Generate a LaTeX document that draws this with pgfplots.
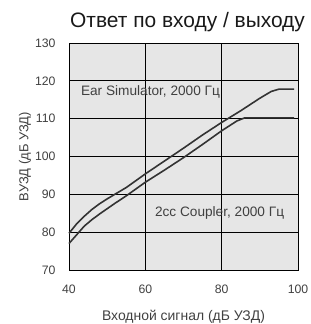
\documentclass[border=0pt]{standalone}
\usepackage{pgfplots}
\pgfplotsset{compat=1.18}
\usepackage{fontspec}
\setmainfont{Liberation Sans}
\definecolor{bg}{HTML}{E6E6E6}
\definecolor{crv}{HTML}{333333}
\definecolor{txt}{HTML}{404040}
\begin{document}
\begin{tikzpicture}
\begin{axis}[
  scale only axis,
  width=229bp, height=227bp,
  xmin=40, xmax=100, ymin=70, ymax=130,
  xtick={40,60,80,100}, ytick={70,80,90,100,110,120,130},
  grid=major,
  major grid style={black, line width=0.9bp},
  axis line style={black, line width=0.9bp},
  major tick length=0pt,
  axis background/.style={fill=bg},
  /pgf/number format/assume math mode=true,
  ticklabel style={font=\fontsize{12.3}{14}\selectfont, text=txt},
  xticklabel style={yshift=-11bp},
  yticklabel style={xshift=-10bp},
  xlabel={Входной сигнал (дБ УЗД)},
  ylabel={ВУЗД (дБ УЗД)},
  every axis x label/.style={at={([yshift=-47bp]rel axis cs:0.5,0)}, anchor=center, font=\fontsize{14}{16}\selectfont, text=txt},
  every axis y label/.style={at={([xshift=-44bp]rel axis cs:0,0.5)}, rotate=90, anchor=center, font=\fontsize{13}{15}\selectfont, text=txt},
  clip=false,
]
\addplot[crv, line width=1.6bp] coordinates {
(40,79.7) (42,82.2) (44,84.2) (46,86.0) (48,87.5) (50,88.8) (52,90.0) (55,91.8) (60,95.4) (65,98.8) (70,102.2) (75,105.7) (80,109.0) (85,112.1) (90,115.4) (93,117.2) (95,117.8) (99,117.8)
};
\addplot[crv, line width=1.6bp] coordinates {
(40,77.0) (42,79.3) (44,81.6) (46,83.3) (48,84.8) (50,86.2) (52,87.6) (55,89.6) (60,93.2) (65,96.4) (70,99.7) (75,103.2) (80,106.8) (84,109.4) (86,110.2) (99,110.2)
};
\node[anchor=west, font=\fontsize{13.7}{15}\selectfont, text=txt, inner sep=0pt] at (axis cs:43.1,117) {Ear Simulator, 2000 Гц};
\node[anchor=west, font=\fontsize{13.7}{15}\selectfont, text=txt, inner sep=0pt] at (axis cs:62.5,85) {2cc Coupler, 2000 Гц};
\node[anchor=base west, font=\fontsize{21}{24}\selectfont, text=black!90, inner sep=0pt] at ([yshift=16bp, xshift=1bp]rel axis cs:0,1) {Ответ по входу / выходу};
\coordinate (SW) at ([shift={(-69bp,-54bp)}]rel axis cs:0,0);
\coordinate (NE) at ([shift={(13bp,43bp)}]rel axis cs:1,1);
\end{axis}
\pgfresetboundingbox
\path[use as bounding box] (SW) rectangle (NE);
\end{tikzpicture}
\end{document}
